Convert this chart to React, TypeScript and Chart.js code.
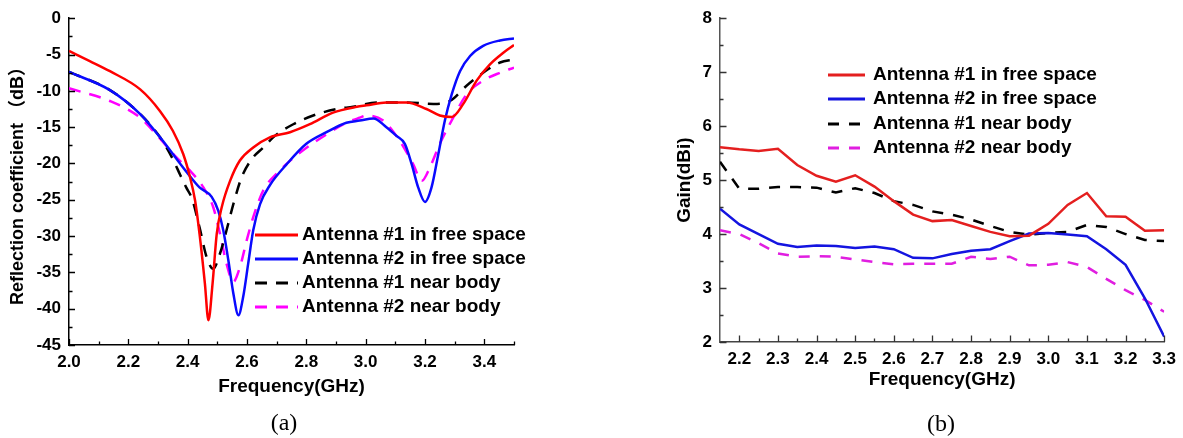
import React, { useEffect, useRef } from "react";
import { Chart, registerables } from "chart.js";

Chart.register(...registerables);

const FONT = "'Liberation Sans', Arial, 'Noto Sans CJK SC', sans-serif";

// ---------- (a) Reflection coefficient ----------
const freqA1 = [2.0, 2.07, 2.138, 2.24, 2.307, 2.35, 2.385, 2.408, 2.425, 2.44, 2.458, 2.47, 2.484, 2.498, 2.515, 2.543, 2.576, 2.621, 2.677, 2.745, 2.812, 2.89, 2.97, 3.003, 3.07, 3.138, 3.205, 3.25, 3.29, 3.329, 3.374, 3.419, 3.464, 3.5];
const s11A1 = [-4.5, -5.9, -7.3, -9.8, -12.8, -15.5, -18.7, -21.9, -25.1, -29.7, -36.5, -41.6, -36.5, -29.7, -26.0, -22.4, -19.6, -17.8, -16.4, -15.7, -14.6, -13.0, -12.2, -12.0, -11.6, -11.6, -12.5, -13.4, -13.6, -11.8, -8.6, -6.35, -4.75, -3.7];

const freqA2 = [2.0, 2.138, 2.24, 2.307, 2.35, 2.397, 2.44, 2.481, 2.503, 2.52, 2.537, 2.554, 2.571, 2.587, 2.604, 2.621, 2.644, 2.677, 2.734, 2.8, 2.868, 2.935, 2.98, 3.026, 3.07, 3.104, 3.132, 3.155, 3.177, 3.2, 3.222, 3.245, 3.267, 3.29, 3.318, 3.352, 3.396, 3.453, 3.5];
const s11A2 = [-7.4, -9.9, -13.2, -16.4, -18.7, -21.2, -23.3, -24.6, -26.5, -29.2, -33.3, -37.9, -40.9, -38.4, -33.8, -29.2, -25.6, -23.0, -20.1, -17.3, -15.7, -14.4, -14.1, -13.8, -15.0, -16.2, -17.3, -20.1, -23.3, -25.3, -23.3, -18.7, -14.1, -10.5, -7.3, -5.2, -3.8, -3.06, -2.8];

const freqA3 = [2.0, 2.138, 2.24, 2.307, 2.35, 2.375, 2.395, 2.415, 2.44, 2.464, 2.486, 2.509, 2.531, 2.554, 2.582, 2.616, 2.655, 2.694, 2.756, 2.823, 2.902, 2.958, 3.037, 3.138, 3.228, 3.284, 3.34, 3.396, 3.453, 3.5];
const s11A3 = [-7.4, -9.9, -13.2, -16.4, -19.4, -21.6, -23.3, -24.9, -28.8, -32.9, -34.5, -32.4, -29.2, -25.6, -21.9, -19.4, -17.8, -16.2, -14.6, -13.4, -12.5, -12.2, -11.6, -11.6, -11.8, -11.4, -9.3, -7.5, -6.1, -5.7];

const freqA4 = [2.0, 2.138, 2.24, 2.307, 2.363, 2.408, 2.453, 2.486, 2.509, 2.531, 2.554, 2.576, 2.599, 2.621, 2.655, 2.7, 2.779, 2.868, 2.935, 2.98, 3.003, 3.059, 3.115, 3.16, 3.189, 3.217, 3.25, 3.295, 3.34, 3.396, 3.453, 3.5];
const s11A4 = [-9.65, -11.4, -13.7, -16.6, -19.2, -21.0, -23.3, -26.0, -29.7, -33.8, -36.3, -34.3, -30.6, -27.4, -23.7, -21.4, -18.5, -16.0, -14.4, -13.7, -13.4, -14.1, -16.9, -20.1, -22.4, -20.5, -17.3, -13.7, -10.5, -8.6, -7.5, -6.8];

const xTicksA = [2.0, 2.2, 2.4, 2.6, 2.8, 3.0, 3.2, 3.4];
const xMinorA = [2.1, 2.3, 2.5, 2.7, 2.9, 3.1, 3.3, 3.5];
const yTicksA = [0, -5, -10, -15, -20, -25, -30, -35, -40, -45];
const yMinorA = [-2.5, -7.5, -12.5, -17.5, -22.5, -27.5, -32.5, -37.5, -42.5];

// ---------- (b) Gain ----------
const freqB = [2.15, 2.2, 2.25, 2.3, 2.35, 2.4, 2.45, 2.5, 2.55, 2.6, 2.65, 2.7, 2.75, 2.8, 2.85, 2.9, 2.95, 3.0, 3.05, 3.1, 3.15, 3.2, 3.25, 3.3];
const gainB1 = [5.61, 5.57, 5.54, 5.58, 5.28, 5.08, 4.97, 5.09, 4.88, 4.61, 4.36, 4.24, 4.26, 4.15, 4.04, 3.96, 3.97, 4.19, 4.54, 4.76, 4.33, 4.32, 4.06, 4.07];
const gainB2 = [4.47, 4.18, 4.0, 3.82, 3.76, 3.79, 3.78, 3.74, 3.77, 3.72, 3.56, 3.55, 3.63, 3.69, 3.72, 3.87, 4.01, 4.02, 3.99, 3.96, 3.72, 3.43, 2.81, 2.1];
const gainB3 = [5.34, 4.84, 4.84, 4.87, 4.87, 4.86, 4.77, 4.85, 4.76, 4.61, 4.54, 4.42, 4.36, 4.27, 4.15, 4.04, 3.99, 4.02, 4.04, 4.17, 4.13, 4.0, 3.89, 3.87];
const gainB4 = [4.07, 4.0, 3.83, 3.64, 3.58, 3.59, 3.58, 3.53, 3.48, 3.44, 3.45, 3.45, 3.45, 3.58, 3.54, 3.58, 3.42, 3.43, 3.48, 3.39, 3.17, 2.96, 2.78, 2.56];

const xTicksB = [2.2, 2.3, 2.4, 2.5, 2.6, 2.7, 2.8, 2.9, 3.0, 3.1, 3.2, 3.3];
const xMinorB = [2.25, 2.35, 2.45, 2.55, 2.65, 2.75, 2.85, 2.95, 3.05, 3.15, 3.25];
const yTicksB = [2, 3, 4, 5, 6, 7, 8];
const yMinorB = [2.5, 3.5, 4.5, 5.5, 6.5, 7.5];

const seriesLabels = [
  "Antenna #1 in free space",
  "Antenna #2 in free space",
  "Antenna #1 near body",
  "Antenna #2 near body",
];

const pts = (xs: number[], ys: number[]) => xs.map((x, i) => ({ x, y: ys[i] }));

const innerTicks = {
  id: "innerTicks",
  afterDraw(chart: any, _args: any, opts: any) {
    const { ctx, chartArea, scales } = chart;
    const xs = scales.x;
    const ys = scales.y;
    ctx.save();
    ctx.strokeStyle = opts.color;
    ctx.lineWidth = opts.width;
    ctx.beginPath();
    const b = chartArea.bottom;
    const l = chartArea.left;
    (opts.xMajor || []).forEach((v: number) => {
      const p = Math.round(xs.getPixelForValue(v)) + 0.5;
      ctx.moveTo(p, b);
      ctx.lineTo(p, b - opts.major);
    });
    (opts.xMinor || []).forEach((v: number) => {
      const p = Math.round(xs.getPixelForValue(v)) + 0.5;
      ctx.moveTo(p, b);
      ctx.lineTo(p, b - opts.minor);
    });
    (opts.yMajor || []).forEach((v: number) => {
      const p = Math.round(ys.getPixelForValue(v)) + 0.5;
      ctx.moveTo(l, p);
      ctx.lineTo(l + opts.major, p);
    });
    (opts.yMinor || []).forEach((v: number) => {
      const p = Math.round(ys.getPixelForValue(v)) + 0.5;
      ctx.moveTo(l, p);
      ctx.lineTo(l + opts.minor, p);
    });
    ctx.stroke();
    ctx.restore();
  },
};

const insetLegend = {
  id: "insetLegend",
  afterDraw(chart: any, _args: any, opts: any) {
    const { ctx } = chart;
    ctx.save();
    chart.data.datasets.forEach((ds: any, i: number) => {
      const y = opts.rows[i];
      ctx.beginPath();
      ctx.strokeStyle = ds.borderColor;
      ctx.lineWidth = ds.borderWidth + 0.5;
      ctx.setLineDash(ds.borderDash || []);
      ctx.moveTo(opts.x1, y);
      ctx.lineTo(opts.x2, y);
      ctx.stroke();
      ctx.setLineDash([]);
      ctx.fillStyle = "#000";
      ctx.font = `bold ${opts.size}px ${FONT}`;
      ctx.textBaseline = "middle";
      ctx.textAlign = "left";
      ctx.fillText(ds.label, opts.xt, y);
    });
    ctx.restore();
  },
};

function makeAxis(min: number, max: number, ticks: number[], fmt: (v: number) => string, extra: any) {
  return {
    type: "linear",
    min,
    max,
    afterBuildTicks: (s: any) => {
      s.ticks = ticks.map((v) => ({ value: v }));
    },
    grid: { display: false, drawTicks: false },
    ticks: {
      autoSkip: false,
      maxRotation: 0,
      color: "#000",
      font: { family: FONT, size: 17, weight: "bold" },
      callback: (v: any) => fmt(Number(v)),
      ...extra.ticks,
    },
    border: { display: true, color: extra.borderColor, width: 1.5 },
    title: extra.title,
    afterFit: extra.afterFit,
  };
}

function ChartA() {
  const ref = useRef<HTMLCanvasElement>(null);
  useEffect(() => {
    const chart = new Chart(ref.current as HTMLCanvasElement, {
      type: "line",
      data: {
        datasets: [
          { label: seriesLabels[0], data: pts(freqA1, s11A1), borderColor: "#ff0000", borderWidth: 2.5 },
          { label: seriesLabels[1], data: pts(freqA2, s11A2), borderColor: "#0a0aff", borderWidth: 2.5 },
          { label: seriesLabels[2], data: pts(freqA3, s11A3), borderColor: "#000000", borderWidth: 2.5, borderDash: [12, 9] },
          { label: seriesLabels[3], data: pts(freqA4, s11A4), borderColor: "#ff00ff", borderWidth: 2.5, borderDash: [12, 9] },
        ].map((d) => ({ ...d, pointRadius: 0, cubicInterpolationMode: "monotone", fill: false })),
      },
      options: {
        responsive: false,
        animation: false,
        events: [],
        layout: { padding: { top: 17, right: 46, left: 0, bottom: 0 } },
        plugins: {
          legend: { display: false },
          tooltip: { enabled: false },
          innerTicks: { color: "#000", width: 1.3, major: 6, minor: 3.5, xMajor: xTicksA, xMinor: xMinorA, yMajor: yTicksA, yMinor: yMinorA },
          insetLegend: { x1: 255, x2: 298, xt: 302, rows: [235, 259, 283, 307], size: 19 },
        },
        scales: {
          x: makeAxis(2.0, 3.5, xTicksA, (v) => v.toFixed(1), {
            borderColor: "#000",
            ticks: { padding: 7 },
            title: { display: true, text: "Frequency(GHz)", color: "#000", font: { family: FONT, size: 19, weight: "bold" }, padding: { top: 0, bottom: 39.6 } },
            afterFit: (s: any) => { s.height = 93; },
          }),
          y: makeAxis(-45, 0, yTicksA, (v) => String(v), {
            borderColor: "#000",
            ticks: { padding: 8 },
            title: { display: true, text: "Reflection coefficient （dB）", color: "#000", font: { family: FONT, size: 18, weight: "bold" }, padding: { top: 7, bottom: 0 } },
            afterFit: (s: any) => { s.width = 69; },
          }),
        },
      } as any,
      plugins: [innerTicks, insetLegend] as any,
    });
    return () => chart.destroy();
  }, []);
  return <canvas ref={ref} width={560} height={438} style={{ position: "absolute", left: 0, top: 0 }} />;
}

function ChartB() {
  const ref = useRef<HTMLCanvasElement>(null);
  useEffect(() => {
    const chart = new Chart(ref.current as HTMLCanvasElement, {
      type: "line",
      data: {
        datasets: [
          { label: seriesLabels[0], data: pts(freqB, gainB1), borderColor: "#e41f1f", borderWidth: 2.5 },
          { label: seriesLabels[1], data: pts(freqB, gainB2), borderColor: "#1414e0", borderWidth: 2.5 },
          { label: seriesLabels[2], data: pts(freqB, gainB3), borderColor: "#000000", borderWidth: 2.5, borderDash: [11, 10] },
          { label: seriesLabels[3], data: pts(freqB, gainB4), borderColor: "#e01ee0", borderWidth: 2.5, borderDash: [11, 10] },
        ].map((d) => ({ ...d, pointRadius: 0, tension: 0, fill: false })),
      },
      options: {
        responsive: false,
        animation: false,
        events: [],
        layout: { padding: { top: 14, right: 18, left: 0, bottom: 0 } },
        plugins: {
          legend: { display: false },
          tooltip: { enabled: false },
          innerTicks: { color: "#333", width: 1.3, major: 6.5, minor: 3.5, xMajor: xTicksB, xMinor: xMinorB, yMajor: yTicksB, yMinor: yMinorB },
          insetLegend: { x1: 228, x2: 265, xt: 273, rows: [75, 99, 124, 148], size: 19 },
        },
        scales: {
          x: makeAxis(2.15, 3.3, xTicksB, (v) => v.toFixed(1), {
            borderColor: "#444",
            ticks: { padding: 7 },
            title: { display: true, text: "Frequency(GHz)", color: "#000", font: { family: FONT, size: 19, weight: "bold" }, padding: { top: 0, bottom: 46.6 } },
            afterFit: (s: any) => { s.height = 96; },
          }),
          y: makeAxis(2, 8, yTicksB, (v) => String(v), {
            borderColor: "#555",
            ticks: { padding: 8 },
            title: { display: true, text: "Gain(dBi)", color: "#000", font: { family: FONT, size: 19, weight: "bold" }, padding: { top: 73.2, bottom: 0 } },
            afterFit: (s: any) => { s.width = 120; },
          }),
        },
      } as any,
      plugins: [innerTicks, insetLegend] as any,
    });
    return () => chart.destroy();
  }, []);
  return <canvas ref={ref} width={583} height={438} style={{ position: "absolute", left: 600, top: 0 }} />;
}

const capStyle: React.CSSProperties = {
  position: "absolute",
  transform: "translate(-50%, -50%)",
  fontFamily: "'Liberation Serif', 'Times New Roman', serif",
  fontSize: 24,
  color: "#000",
  lineHeight: 1,
  whiteSpace: "nowrap",
};

export default function App() {
  return (
    <div style={{ position: "absolute", left: 0, top: 0, width: 1183, height: 438, background: "#fff", overflow: "hidden" }}>
      <ChartA />
      <ChartB />
      <div style={{ ...capStyle, left: 284, top: 422 }}>(a)</div>
      <div style={{ ...capStyle, left: 941, top: 423 }}>(b)</div>
    </div>
  );
}
